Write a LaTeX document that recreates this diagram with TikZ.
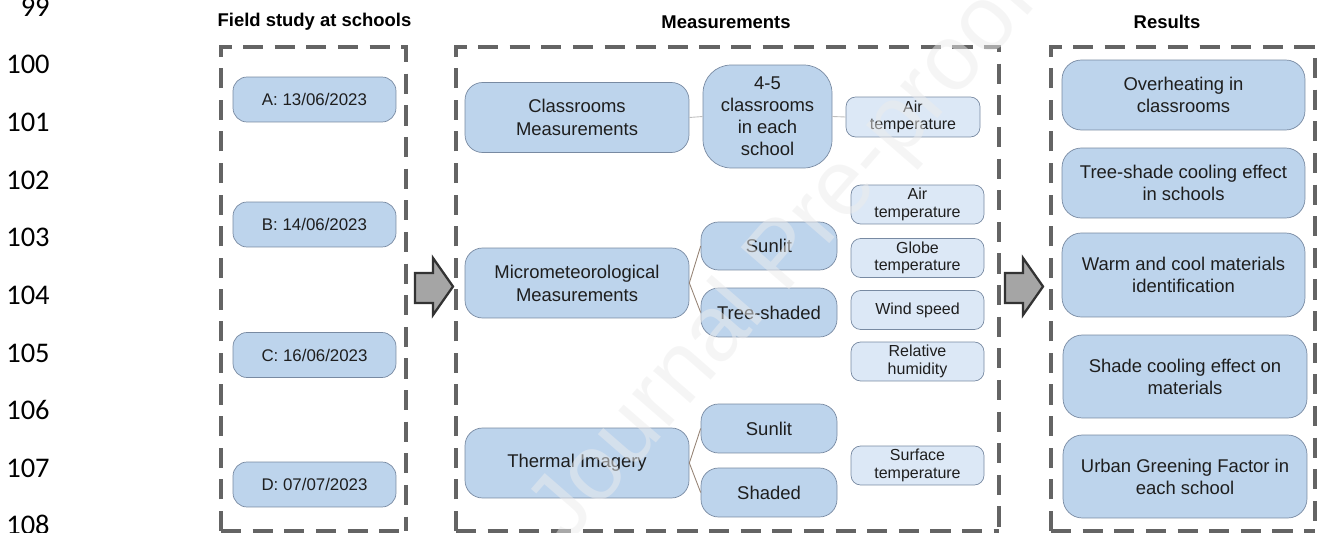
\documentclass[tikz,border=0pt]{standalone}
\usepackage{fontspec}
\setmainfont{Liberation Sans}
\newfontfamily\numfont{Carlito}
\usepackage{tikz}
\usetikzlibrary{positioning}
\usepackage{xcolor}
\definecolor{boxblue}{RGB}{189,212,236}
\definecolor{boxpale}{RGB}{220,232,246}
\definecolor{boxedge}{RGB}{120,138,162}
\definecolor{framegray}{RGB}{100,100,100}
\definecolor{arrowgray}{RGB}{165,165,165}
\definecolor{textdark}{RGB}{30,30,30}
\definecolor{linkbrown}{RGB}{150,132,118}
\definecolor{linkgray}{RGB}{190,190,190}
\definecolor{markgray}{RGB}{236,236,236}
\tikzstyle{mainbox} = [draw=boxedge, fill=boxblue, rounded corners=10pt, text=textdark, align=center, inner sep=0pt, font=\fontsize{10.5}{13}\selectfont]
\tikzstyle{smallbox} = [draw=boxedge, fill=boxpale, rounded corners=5.5pt, text=textdark, align=center, inner sep=0pt, minimum width=2.66cm, minimum height=0.78cm, font=\fontsize{9.1}{9.9}\selectfont]
\tikzstyle{datebox} = [mainbox, rounded corners=8pt, minimum width=3.26cm, minimum height=0.9cm, font=\fontsize{9.6}{11}\selectfont]
\tikzstyle{resbox} = [mainbox, rounded corners=11pt, minimum width=4.86cm, font=\fontsize{10.5}{12.5}\selectfont]
\tikzstyle{frame} = [draw=framegray, line width=1.8pt, dash pattern=on 11.5pt off 6.5pt]
\tikzstyle{blockarrow} = [draw=black!80, fill=arrowgray, line width=1.3pt, line join=miter]
\tikzstyle{link} = [linkbrown, line width=0.5pt]

\begin{document}
\begin{tikzpicture}[x=0.02cm, y=-0.02cm]
\useasboundingbox (0,0) rectangle (1317,533);

% Line numbers
\foreach \n [count=\k from 0] in {99,100,...,108} {
    \node[anchor=base east, inner sep=0pt, font=\numfont\fontsize{16.2}{16.2}\selectfont] (ln\n) at (50,16.4+57.6*\k) {\n};
}

% Titles
\node[font=\bfseries\fontsize{10.5}{13}\selectfont] (titleField) at (314.5,22) {Field study at schools};
\node[font=\bfseries\fontsize{10.5}{13}\selectfont] (titleMeas) at (726,22) {Measurements};
\node[font=\bfseries\fontsize{10.5}{13}\selectfont] (titleRes) at (1167,22) {Results};

% Dashed frames
\draw[frame] (221,531) -- (221,47) -- (406,47) -- (406,531);
\draw[frame] (456,531) -- (456,47) -- (999,47) -- (999,531);
\draw[frame] (1051,531) -- (1051,47) -- (1315,47) -- (1315,531);
\draw[frame] (221,531) -- (406,531);
\draw[frame] (456,531) -- (999,531);
\draw[frame] (1051,531) -- (1315,531);

% Field study dates
\foreach \s/\d/\y in {A/13\slash06\slash2023/99.5, B/14\slash06\slash2023/224.5, C/16\slash06\slash2023/355, D/07\slash07\slash2023/484.5} {
    \node[datebox] (date\s) at (314.5,\y) {\s: \d};
}

% Block arrows
\foreach \dx in {0,590} {
    \draw[blockarrow, shift={(\dx,0)}] (415,273) -- (433,273) -- (433,258) -- (453,286.5) -- (433,315) -- (433,303) -- (415,303) -- cycle;
}

% Classrooms
\node[mainbox, minimum width=4.48cm, minimum height=1.4cm] (classMeas) at (577,117.5) {Classrooms\\Measurements};
\node[mainbox, rounded corners=16pt, minimum width=2.58cm, minimum height=2.06cm, font=\fontsize{10.5}{12.6}\selectfont] (classNum) at (767.5,116.5) {4-5\\classrooms\\in each\\school};
\node[smallbox, minimum width=2.68cm, minimum height=0.8cm] (airClass) at (913,117) {Air\\temperature};
\draw[linkgray, line width=0.5pt] (classMeas.east) -- (classNum.west);
\draw[linkgray, line width=0.5pt] (classNum.east) -- (airClass.west);

% Micrometeorological
\node[mainbox, minimum width=4.48cm, minimum height=1.4cm] (microMeas) at (577,283) {Micrometeorological\\Measurements};
\node[mainbox, minimum width=2.72cm, minimum height=0.96cm] (sunMicro) at (769,246) {Sunlit};
\node[mainbox, minimum width=2.72cm, minimum height=0.98cm] (shadeMicro) at (769,312.5) {Tree-shaded};
\draw[link] (microMeas.east) -- (sunMicro.west);
\draw[link] (microMeas.east) -- (shadeMicro.west);
\node[smallbox] (airMicro) at (917.5,204.5) {Air\\temperature};
\node[smallbox] (globeMicro) at (917.5,258) {Globe\\temperature};
\node[smallbox] (windMicro) at (917.5,310) {Wind speed};
\node[smallbox] (humMicro) at (917.5,361.5) {Relative\\humidity};

% Thermal imagery
\node[mainbox, minimum width=4.48cm, minimum height=1.4cm] (thermImg) at (577,463) {Thermal Imagery};
\node[mainbox, minimum width=2.72cm, minimum height=0.98cm] (sunTherm) at (769,428.5) {Sunlit};
\node[mainbox, minimum width=2.72cm, minimum height=0.98cm] (shadeTherm) at (769,492.5) {Shaded};
\draw[link] (thermImg.east) -- (sunTherm.west);
\draw[link] (thermImg.east) -- (shadeTherm.west);
\node[smallbox] (surfTherm) at (917.5,465.5) {Surface\\temperature};

% Results
\node[resbox, minimum height=1.4cm] (resOver) at (1183.5,95) {Overheating in\\classrooms};
\node[resbox, minimum height=1.4cm] (resTree) at (1183.5,183) {Tree-shade cooling effect\\in schools};
\node[resbox, minimum height=1.68cm] (resWarm) at (1183.5,275) {Warm and cool materials\\identification};
\node[resbox, minimum width=4.88cm, minimum height=1.66cm] (resShade) at (1185,376.5) {Shade cooling effect on\\materials};
\node[resbox, minimum width=4.88cm, minimum height=1.66cm] (resUGF) at (1185,476.5) {Urban Greening Factor in\\each school};

% Watermark
\node[rotate=49, text=markgray, opacity=0.5, font=\fontsize{53}{53}\selectfont] (mark) at (785,258) {Journal Pre-proof};
\end{tikzpicture}
\end{document}
